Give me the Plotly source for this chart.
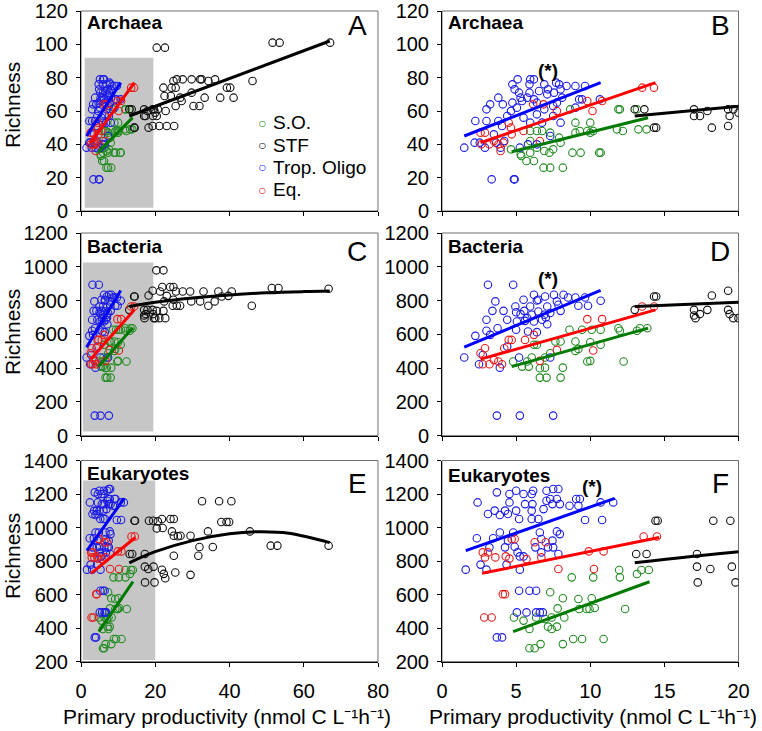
import plotly.graph_objects as go

W, H = 762, 731

# ======================= DATA =======================
# ---- Archaea ----
arch_so_x = [4.65, 5.3, 5.35, 5.7, 6.2, 5.95, 6.4, 5.95, 6.4, 6.75, 7.3, 6.85, 7.3, 8.15, 6.9, 7.25, 7.5, 8.0, 7.9, 8.65,
             8.8, 9.35, 9.0, 9.0, 9.3, 9.8, 10.0, 10.0, 10.2, 10.6, 10.7, 11.9, 12.0, 11.8, 12.2, 13.25, 13.8, 13.15, 5.95]
arch_so_y = [37, 34, 33, 30, 30, 35, 38, 48, 48, 48, 47, 26, 26, 26, 36, 35, 37, 41, 44, 61,
             35, 35, 53, 47, 48, 48, 53, 47, 48, 35, 35, 61, 61, 49, 48, 49, 49, 61, 42]
arch_stf_x = [13.0, 13.65, 14.3, 14.45, 17.0, 17.0, 17.4, 17.9, 18.2, 19.3, 19.3, 19.4, 19.65, 20.0, 20.4, 22.6, 22.2,
              22.5, 22.8, 20.7, 20.4, 21.1, 23.1, 25.1, 24.9, 25.8, 27.4, 24.4, 25.5, 24.2, 25.5, 26.7, 27.1, 29.8,
              32.1, 32.5, 34.3, 36.1, 29.8, 33.3, 30.3, 31.9, 37.5, 39.3, 40.2, 41.1, 46.2, 51.6, 53.5, 67.1]
arch_stf_y = [61, 61, 50, 50, 61, 57, 57, 60, 50, 61, 51, 57, 61, 59, 98, 98, 74,
              69, 60, 61, 57, 51, 51, 51, 78, 79, 79, 74, 74, 69, 63, 68, 66, 79,
              79, 79, 78, 79, 71, 68, 63, 63, 68, 74, 74, 68, 78, 101, 101, 101]
arch_trop_x = [1.5, 2.25, 2.2, 2.55, 2.9, 3.0, 3.25, 3.0, 3.8, 4.1, 3.8, 3.35, 4.85, 3.65, 4.2, 4.75, 5.1, 4.9, 5.2,
               5.3, 5.4, 5.05, 4.65, 4.4, 4.75, 5.95, 6.2, 5.9, 5.9, 5.75, 6.2, 6.4, 6.9, 7.15, 7.55, 7.7, 7.9, 8.0,
               8.1, 7.75, 7.5, 7.3, 6.9, 8.4, 9.0, 9.65, 9.25, 9.45, 9.0, 10.65, 5.8, 6.4, 5.25, 4.05, 8.0, 7.5, 6.4,
               6.75, 5.5, 5.95, 3.5, 3.95, 7.1, 6.55, 4.9]
arch_trop_y = [38, 54, 41, 41, 38, 61, 64, 54, 68, 64, 54, 19, 19, 41, 42, 76, 79, 73, 71,
               68, 66, 62, 60, 57, 65, 79, 79, 76, 71, 68, 67, 65, 76, 73, 71, 77, 76, 73,
               68, 65, 63, 45, 61, 75, 75, 75, 67, 67, 62, 67, 40, 40, 38, 51, 53, 57, 58,
               53, 56, 53, 46, 38, 70, 72, 19]
arch_eq_x = [2.6, 2.9, 2.65, 3.2, 3.5, 3.8, 3.95, 4.15, 4.5, 4.65, 5.5, 6.15, 6.85, 6.6, 7.75, 9.8, 10.15, 10.8,
             13.5, 14.3, 4.7]
arch_eq_y = [47, 47, 40, 40, 42, 40, 36, 41, 53, 50, 48, 64, 64, 42, 60, 66, 60, 66, 74, 74, 46]
# fitted lines
arch_so_fit_x, arch_so_fit_y = [4.7, 13.9], [35.5, 56]
arch_stf_fit_x, arch_stf_fit_y = [13, 67], [57, 102]
arch_trop_fit_x, arch_trop_fit_y = [1.5, 10.7], [45, 77]
arch_eq_fit_x, arch_eq_fit_y = [2.6, 14.4], [41, 77]

# ---- Bacteria ----
bact_so_x = [4.8, 5.4, 5.75, 5.85, 6.05, 6.4, 6.6, 6.95, 6.6, 7.05, 6.95, 7.3, 8.0, 8.15, 8.0, 8.6, 9.0, 9.2, 9.45,
             9.8, 10.0, 10.1, 10.0, 10.7, 10.7, 11.9, 12.0, 12.25, 13.15, 13.35, 13.85, 6.2, 7.65, 9.0]
bact_so_y = [439, 409, 439, 409, 463, 538, 399, 403, 344, 344, 463, 488, 558, 403, 344, 627, 558, 514, 627,
             439, 443, 627, 553, 627, 538, 636, 621, 439, 621, 636, 636, 538, 558, 502]
bact_stf_x = [13.0, 14.3, 14.45, 17.0, 17.0, 17.1, 17.4, 17.9, 18.2, 19.3, 19.3, 19.4, 19.65, 20.0, 20.3, 22.2,
              20.4, 21.1, 21.3, 21.9, 22.7, 22.2, 22.4, 24.0, 24.9, 23.1, 24.7, 25.8, 26.7, 24.9, 25.6, 27.4, 29.4,
              29.7, 32.1, 33.0, 34.3, 36.0, 37.0, 37.9, 39.7, 40.6, 46.0, 51.4, 53.2, 66.7]
bact_stf_y = [745, 824, 824, 745, 712, 696, 720, 745, 830, 858, 745, 720, 696, 696, 979, 979,
              739, 696, 854, 880, 696, 739, 795, 880, 880, 828, 769, 769, 769, 805, 854, 854, 854,
              795, 795, 854, 769, 795, 854, 824, 828, 854, 769, 874, 874, 870]
bact_trop_x = [1.5, 2.25, 2.5, 2.75, 3.0, 3.1, 3.0, 3.25, 3.6, 3.4, 3.75, 3.9, 3.7, 4.15, 4.4, 4.8, 4.95, 5.0, 5.05,
               5.0, 5.3, 5.2, 5.25, 5.5, 5.55, 5.75, 5.95, 6.05, 6.2, 6.5, 6.5, 6.75, 6.4, 6.95, 7.1, 7.3, 7.55,
               7.75, 8.0, 7.5, 7.3, 8.2, 8.5, 9.0, 9.2, 9.65, 9.85, 10.7, 6.9, 6.2, 7.1, 7.85, 4.4, 5.8, 6.4, 7.0, 5.6]
bact_trop_y = [463, 591, 423, 478, 686, 894, 621, 597, 795, 739, 636, 403, 119, 739, 686, 894, 765, 731, 676,
               627, 720, 463, 119, 805, 739, 696, 765, 716, 834, 805, 735, 686, 613, 824, 765, 726, 834,
               795, 739, 119, 463, 834, 818, 818, 769, 818, 769, 799, 716, 676, 660, 775, 528, 617, 800, 700, 680]
bact_eq_x = [2.6, 2.9, 2.75, 3.2, 3.5, 3.8, 4.05, 4.2, 4.5, 4.7, 5.6, 6.2, 6.6, 7.75, 9.8, 10.2, 10.8, 13.5, 14.3]
bact_eq_y = [488, 518, 423, 423, 449, 439, 423, 518, 567, 567, 567, 597, 443, 508, 690, 504, 690, 765, 765]
bact_so_fit_x, bact_so_fit_y = [4.7, 13.9], [409, 637]
bact_stf_fit_x = [13, 20, 30, 40, 50, 60, 67]
bact_stf_fit_y = [765, 790, 815, 833, 846, 853, 856]
bact_trop_fit_x, bact_trop_fit_y = [1.5, 10.7], [524, 860]
bact_eq_fit_x, bact_eq_fit_y = [2.6, 14.4], [453, 745]

# ---- Eukaryotes ----
euk_so_x = [4.85, 5.5, 5.9, 5.9, 6.25, 6.65, 6.35, 6.95, 7.3, 7.15, 7.4, 7.75, 7.4, 7.8, 8.15, 8.15, 8.25, 8.75,
            8.85, 9.2, 9.45, 9.25, 9.75, 9.95, 10.1, 10.2, 10.3, 10.9, 11.95, 12.0, 12.35, 13.15, 13.45, 13.95]
euk_so_y = [464, 445, 395, 280, 280, 305, 464, 455, 614, 409, 395, 409, 464, 518, 305, 578, 464, 703,
            335, 574, 335, 514, 514, 514, 578, 703, 520, 335, 747, 703, 514, 723, 747, 747]
euk_stf_x = [13.1, 13.8, 14.4, 14.55, 17.2, 17.2, 17.25, 18.1, 18.3, 19.45, 19.55, 19.8,
             20.7, 20.4, 21.8, 22.0, 21.8, 22.3, 22.7, 24.1, 25.0, 24.5, 25.0, 26.8, 26.1, 25.0, 25.4, 29.5, 29.5,
             31.9, 31.6, 32.6, 35.5, 34.2, 37.2, 37.8, 39.2, 39.9, 40.5, 45.5, 51.1, 52.9, 66.7]
euk_stf_y = [842, 842, 1041, 1041, 842, 767, 673, 753, 1041, 1041, 767, 673,
             1037, 995, 1051, 997, 748, 724, 698, 1051, 1051, 977, 951, 951, 948, 832, 732, 951, 718,
             884, 832, 1157, 884, 977, 1157, 1033, 1033, 1033, 1157, 977, 892, 892, 892]
euk_trop_x = [1.6, 2.35, 2.4, 2.6, 3.0, 3.1, 3.2, 3.45, 3.55, 3.7, 3.9, 3.7, 4.05, 3.9, 4.25, 4.25, 4.35, 4.45, 4.45,
              4.55, 4.55, 4.8, 5.0, 4.9, 5.1, 5.25, 5.2, 5.25, 5.2, 5.05, 5.0, 5.5, 5.6, 5.5, 5.7, 5.9, 6.05, 6.15,
              6.1, 6.05, 6.05, 6.35, 6.5, 6.3, 6.6, 6.7, 6.7, 6.35, 6.6, 6.8, 6.85, 7.05, 7.05, 7.3, 7.5, 7.45, 7.15,
              7.5, 7.45, 7.75, 7.85, 7.95, 7.75, 7.95, 8.6, 9.05, 9.3, 9.2, 9.65, 10.7, 10.8, 11.55, 7.85]
euk_trop_y = [749, 936, 1150, 779, 749, 1081, 882, 936, 1101, 1210, 1075, 345, 345, 971, 1101, 882, 779, 1081, 922,
              1200, 1150, 971, 1101, 886, 852, 828, 1051, 749, 623, 494, 1220, 1200, 1140, 828, 494, 623, 1200, 1220,
              1140, 1101, 1051, 623, 1051, 882, 971, 932, 852, 494, 494, 494, 1110, 1220, 1160, 1170, 1230, 1140, 882,
              882, 922, 1170, 1230, 1140, 977, 961, 1130, 1170, 1170, 1130, 1045, 1150, 1045, 1150, 842]
euk_eq_x = [2.75, 2.9, 3.1, 2.85, 3.35, 3.6, 4.1, 4.25, 4.3, 4.55, 4.7, 4.9, 5.7, 6.25, 6.7, 7.0, 7.85, 9.9,
            10.25, 10.9, 13.6, 14.5]
euk_eq_y = [852, 822, 852, 464, 464, 822, 603, 603, 828, 815, 932, 932, 812, 912, 822, 912, 753, 858,
            753, 858, 947, 947]
euk_so_fit_x, euk_so_fit_y = [4.8, 14.0], [379, 677]
euk_stf_fit_x = [13, 20, 30, 40, 48, 56, 67]
euk_stf_fit_y = [790, 856, 922, 963, 975, 966, 910]
euk_trop_fit_x, euk_trop_fit_y = [1.6, 11.65], [862, 1174]
euk_eq_fit_x, euk_eq_fit_y = [2.7, 14.65], [727, 941]

# ---- labels / ticks ----
domain_names = ["Archaea", "Bacteria", "Eukaryotes"]
panel_letters = ["A", "B", "C", "D", "E", "F"]
group_labels = ["S.O.", "STF", "Trop. Oligo", "Eq."]
y_ticks = [[0, 20, 40, 60, 80, 100, 120],
           [0, 200, 400, 600, 800, 1000, 1200],
           [200, 400, 600, 800, 1000, 1200, 1400]]
x_ticks_left = [0, 20, 40, 60, 80]
x_ticks_right = [0, 5, 10, 15, 20]
star_pos_x = [7.15, 7.15, 10.1]
star_pos_y = [84.5, 933, 1244]
y_title = "Richness"
x_title = "Primary productivity (nmol C L\u207b\u00b9h\u207b\u00b9)"

# ======================= BUILD =======================
FONT = "Liberation Sans, Arial, sans-serif"
groups = ["so", "stf", "trop", "eq"]
mcol = {"so": "#228b22", "stf": "#111111", "trop": "#1c1ce6", "eq": "#e61c1c"}
lcol = {"so": "#007a00", "stf": "#000000", "trop": "#0000ff", "eq": "#ff0000"}

data = {
    0: {"so": (arch_so_x, arch_so_y, arch_so_fit_x, arch_so_fit_y),
        "stf": (arch_stf_x, arch_stf_y, arch_stf_fit_x, arch_stf_fit_y),
        "trop": (arch_trop_x, arch_trop_y, arch_trop_fit_x, arch_trop_fit_y),
        "eq": (arch_eq_x, arch_eq_y, arch_eq_fit_x, arch_eq_fit_y)},
    1: {"so": (bact_so_x, bact_so_y, bact_so_fit_x, bact_so_fit_y),
        "stf": (bact_stf_x, bact_stf_y, bact_stf_fit_x, bact_stf_fit_y),
        "trop": (bact_trop_x, bact_trop_y, bact_trop_fit_x, bact_trop_fit_y),
        "eq": (bact_eq_x, bact_eq_y, bact_eq_fit_x, bact_eq_fit_y)},
    2: {"so": (euk_so_x, euk_so_y, euk_so_fit_x, euk_so_fit_y),
        "stf": (euk_stf_x, euk_stf_y, euk_stf_fit_x, euk_stf_fit_y),
        "trop": (euk_trop_x, euk_trop_y, euk_trop_fit_x, euk_trop_fit_y),
        "eq": (euk_eq_x, euk_eq_y, euk_eq_fit_x, euk_eq_fit_y)},
}


def px(v):
    return v / W


def py(v):
    return 1 - v / H


XDOM = [[px(81), px(378)], [px(442), px(738.5)]]
YDOM = [[py(211), py(11)], [py(435.7), py(233)], [py(661.7), py(460.5)]]
XR = [[0, 80], [0, 20]]
XT = [x_ticks_left, x_ticks_right]
YR = [[0, 120], [0, 1200], [200, 1400]]
SHADE = [(1, 19.5, 2, 92), (0.5, 19.5, 25, 1025), (0.5, 20, 210, 1280)]

fig = go.Figure()
layout = dict(width=W, height=H, margin=dict(l=0, r=0, t=0, b=0, autoexpand=False),
              paper_bgcolor="white", plot_bgcolor="white", showlegend=False,
              font=dict(family=FONT, color="black"))
shapes, annotations = [], []

for row in range(3):
    for side in range(2):
        k = 2 * row + side + 1
        xa = "x" if k == 1 else f"x{k}"
        ya = "y" if k == 1 else f"y{k}"
        for g in groups:
            x, y, fx, fy = data[row][g]
            fig.add_trace(go.Scatter(x=x, y=y, mode="markers", xaxis=xa, yaxis=ya,
                                     marker=dict(symbol="circle-open", size=7.5, color=mcol[g],
                                                 line=dict(width=1.1)),
                                     hoverinfo="skip"))
        for g in groups:
            x, y, fx, fy = data[row][g]
            fig.add_trace(go.Scatter(x=fx, y=fy, mode="lines", xaxis=xa, yaxis=ya,
                                     line=dict(color=lcol[g], width=3,
                                               shape="spline" if len(fx) > 2 else "linear"),
                                     hoverinfo="skip"))
        axcommon = dict(showline=True, linecolor="black", linewidth=1, ticks="outside", ticklen=4,
                        tickwidth=1, tickcolor="black", showgrid=False, zeroline=False, automargin=False,
                        ticklabeloverflow="allow",
                        tickfont=dict(size=20, family=FONT, color="black"))
        layout["xaxis" if k == 1 else f"xaxis{k}"] = dict(
            domain=XDOM[side], range=XR[side], tickvals=XT[side], anchor=ya,
            showticklabels=(row == 2), ticklabelstandoff=7, **axcommon)
        layout["yaxis" if k == 1 else f"yaxis{k}"] = dict(
            domain=YDOM[row], range=YR[row], tickvals=y_ticks[row], anchor=xa,
            ticklabelstandoff=4, **axcommon)
        if side == 0:
            x0, x1, y0, y1 = SHADE[row]
            shapes.append(dict(type="rect", xref=xa, yref=ya, x0=x0, x1=x1, y0=y0, y1=y1,
                               fillcolor="#c6c6c6", line=dict(width=0), layer="below"))
        shapes.append(dict(type="rect", xref=f"{xa} domain", yref=f"{ya} domain", x0=0, x1=1, y0=0, y1=1,
                           line=dict(color="#6e6e6e", width=1), layer="below"))
        # panel title
        tx = [85, 446][side]
        ty = [[23, 22.5], [246.7, 246.7], [473.5, 475]][row][side]
        annotations.append(dict(text=f"<b>{domain_names[row]}</b>", xref="paper", yref="paper",
                                x=px(tx), y=py(ty), xanchor="left", yanchor="middle", showarrow=False,
                                font=dict(size=19, family=FONT)))
        # panel letter
        lx = [357, 720][side]
        ly = [26, 251, 483][row]
        annotations.append(dict(text=panel_letters[k - 1], xref="paper", yref="paper",
                                x=px(lx), y=py(ly), xanchor="center", yanchor="middle", showarrow=False,
                                font=dict(size=28, family=FONT)))
        if side == 1:
            annotations.append(dict(text="<b>(*)</b>", xref=xa, yref=ya, x=star_pos_x[row], y=star_pos_y[row],
                                    xanchor="center", yanchor="middle", showarrow=False,
                                    font=dict(size=19, family=FONT)))
        else:
            annotations.append(dict(text=y_title, xref="paper", yref="paper", x=px(12),
                                    y=py([105, 332, 556][row]), textangle=-90, xanchor="center",
                                    yanchor="middle", showarrow=False, font=dict(size=21, family=FONT)))

# x titles
for cx in (227, 593):
    annotations.append(dict(text=x_title, xref="paper", yref="paper", x=px(cx), y=py(716),
                            xanchor="center", yanchor="middle", showarrow=False,
                            font=dict(size=21, family=FONT)))

# legend in panel A (text + circle glyph)
for i, (g, lab) in enumerate(zip(groups, group_labels)):
    yy = py(122.7 + 22.4 * i)
    annotations.append(dict(text="\u25cb", xref="paper", yref="paper", x=px(262), y=yy,
                            xanchor="center", yanchor="middle", showarrow=False,
                            font=dict(size=14, family=FONT, color=mcol[g])))
    annotations.append(dict(text=lab, xref="paper", yref="paper", x=px(271), y=yy,
                            xanchor="left", yanchor="middle", showarrow=False,
                            font=dict(size=19, family=FONT)))

layout["shapes"] = shapes
layout["annotations"] = annotations
fig.update_layout(**layout)
fig.write_html("out.html", config={"displayModeBar": False, "staticPlot": True},
               post_script="document.body.style.margin='0';document.body.style.overflow='hidden';")
